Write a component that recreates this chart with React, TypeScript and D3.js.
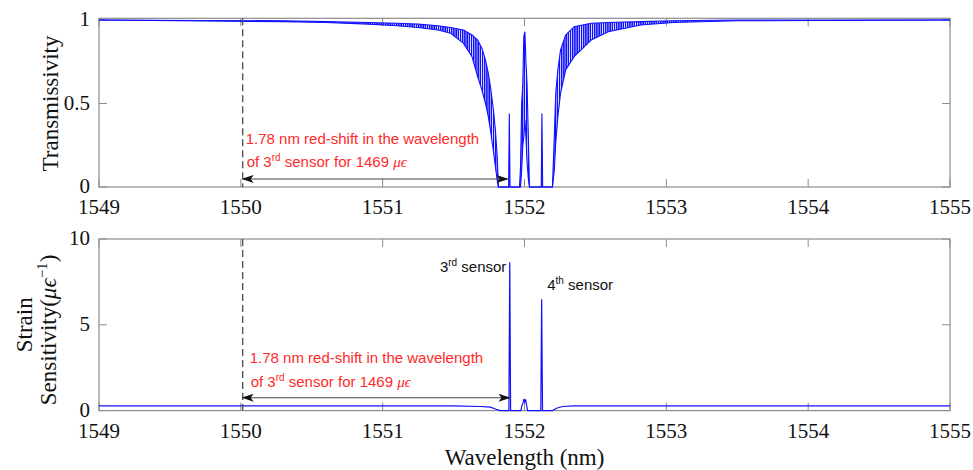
import * as d3 from "d3";

// wavelength axis (nm)
const xTicks = [1549, 1550, 1551, 1552, 1553, 1554, 1555];

// top panel: transmissivity, upper / lower envelope of the fringes
const tWave = [
  1549, 1550.3, 1550.6, 1550.9, 1551.1, 1551.25, 1551.39, 1551.48, 1551.57, 1551.63, 1551.67, 1551.7,
  1551.725, 1551.745, 1551.76, 1551.78, 1551.795, 1551.808, 1551.816, 1551.888, 1551.893, 1551.898,
  1551.965, 1551.972, 1551.98, 1551.988, 1551.995, 1552.003, 1552.01, 1552.018, 1552.027, 1552.035,
  1552.118, 1552.123, 1552.128, 1552.197, 1552.21, 1552.22, 1552.235, 1552.254, 1552.29, 1552.35,
  1552.47, 1552.59, 1552.82, 1553.05, 1553.5, 1555,
];
const tUpper = [
  1.0, 0.995, 0.99, 0.985, 0.98, 0.975, 0.965, 0.955, 0.94, 0.91, 0.88, 0.83,
  0.76, 0.68, 0.6, 0.47, 0.34, 0.18, 0.0, 0.0, 0.44, 0.0,
  0.0, 0.12, 0.5, 0.62, 0.9, 0.93, 0.75, 0.62, 0.3, 0.0,
  0.0, 0.44, 0.0, 0.0, 0.3, 0.56, 0.7, 0.82, 0.91, 0.96,
  0.98, 0.985, 0.99, 0.995, 1.0, 1.0,
];
const tLower = [
  1.0, 0.99, 0.985, 0.975, 0.965, 0.955, 0.94, 0.92, 0.86, 0.78, 0.66, 0.58,
  0.5, 0.42, 0.34, 0.22, 0.12, 0.04, 0.0, 0.0, 0.0, 0.0,
  0.0, 0.0, 0.1, 0.25, 0.3, 0.4, 0.3, 0.15, 0.05, 0.0,
  0.0, 0.0, 0.0, 0.0, 0.1, 0.26, 0.42, 0.56, 0.7, 0.78,
  0.88, 0.93, 0.97, 0.985, 0.995, 1.0,
];

// bottom panel: strain sensitivity (1/µε)
const sWave = [
  1549, 1551.0, 1551.5, 1551.69, 1551.76, 1551.8, 1551.83, 1551.89, 1551.896, 1551.902,
  1551.975, 1551.982, 1551.99, 1551.996, 1552.002, 1552.008, 1552.015, 1552.022,
  1552.115, 1552.121, 1552.127, 1552.197, 1552.23, 1552.27, 1552.35, 1553, 1555,
];
const sValue = [
  0.28, 0.28, 0.27, 0.24, 0.2, 0.08, 0.0, 0.0, 8.64, 0.0,
  0.0, 0.3, 0.45, 0.68, 0.5, 0.65, 0.3, 0.0,
  0.0, 6.49, 0.0, 0.0, 0.15, 0.24, 0.27, 0.28, 0.28,
];

const topTicks = [0, 0.5, 1];
const topTickLabels = ["0", "0.5", "1"];
const botTicks = [0, 5, 10];
const botTickLabels = ["0", "5", "10"];

const refWave = 1550.013;
const shiftEnd = 1551.88;

const W = 973;
const H = 470;
const left = 99;
const right = 950;
const BLUE = "#1010ff";
const FRAME = "#8c8c8c";
const RED = "#ff2a2a";
const SERIF = "'Liberation Serif', 'Times New Roman', serif";
const SANS = "'Liberation Sans', Arial, sans-serif";

const x = d3.scaleLinear().domain([1549, 1555]).range([left, right]);
const yTop = d3.scaleLinear().domain([0, 1.01]).range([187, 18.3]);
const yBot = d3.scaleLinear().domain([0, 10]).range([410.6, 239]);

const Frame = ({ y, ticks, labels }) => {
  const [y0, y1] = y.range();
  return (
    <g>
      <rect x={left} y={y1} width={right - left} height={y0 - y1} fill="none" stroke={FRAME} strokeWidth={1.2} />
      {xTicks.map((t) => (
        <g key={t}>
          <line x1={x(t)} x2={x(t)} y1={y0} y2={y0 - 8} stroke={FRAME} />
          <line x1={x(t)} x2={x(t)} y1={y1} y2={y1 + 8} stroke={FRAME} />
          <text x={x(t)} y={y0 + 27} textAnchor="middle" fontFamily={SERIF} fontSize={21} fill="#111">
            {t}
          </text>
        </g>
      ))}
      {ticks.map((t, i) => (
        <g key={t}>
          <line x1={left} x2={left + 8} y1={y(t)} y2={y(t)} stroke={FRAME} />
          <line x1={right} x2={right - 8} y1={y(t)} y2={y(t)} stroke={FRAME} />
          <text x={left - 9} y={y(t)} dy="0.3em" textAnchor="end" fontFamily={SERIF} fontSize={21} fill="#111">
            {labels[i]}
          </text>
        </g>
      ))}
    </g>
  );
};

const Note = ({ tx, ty1, ty2 }) => (
  <g fontFamily={SANS} fontSize={15} fill={RED}>
    <text x={tx} y={ty1}>1.78 nm red-shift in the wavelength</text>
    <text x={tx + 1} y={ty2}>
      of 3<tspan fontSize={10} dy={-6}>rd</tspan>
      <tspan dy={6}> sensor for 1469 </tspan>
      <tspan fontFamily={SERIF} fontStyle="italic">μϵ</tspan>
    </text>
  </g>
);

export default function App() {
  const idx = d3.range(tWave.length);
  const band = d3
    .area<number>()
    .x((i) => x(tWave[i]))
    .y0((i) => yTop(tLower[i]))
    .y1((i) => yTop(tUpper[i]));
  const upLine = d3.line<number>().x((i) => x(tWave[i])).y((i) => yTop(tUpper[i]));
  const loLine = d3.line<number>().x((i) => x(tWave[i])).y((i) => yTop(tLower[i]));
  const sLine = d3
    .line<number>()
    .x((i) => x(sWave[i]))
    .y((i) => yBot(sValue[i]));

  const topArrowY = yTop(0.048);
  const botArrowY = yBot(0.75);

  return (
    <svg width={W} height={H} style={{ position: "absolute", left: 0, top: 0, background: "#fff" }}>
      <defs>
        <pattern id="hatch" width={2.2} height={4} patternUnits="userSpaceOnUse">
          <rect width={1.5} height={4} fill={BLUE} />
        </pattern>
        <marker id="ahR" viewBox="0 0 12 8" refX={11} refY={4} markerWidth={12} markerHeight={8} markerUnits="userSpaceOnUse" orient="auto">
          <path d="M0,0 L12,4 L0,8 L3,4 Z" fill="#111" />
        </marker>
        <marker id="ahL" viewBox="0 0 12 8" refX={1} refY={4} markerWidth={12} markerHeight={8} markerUnits="userSpaceOnUse" orient="auto">
          <path d="M12,0 L0,4 L12,8 L9,4 Z" fill="#111" />
        </marker>
      </defs>

      {/* top panel */}
      <Frame y={yTop} ticks={topTicks} labels={topTickLabels} />
      <path d={band(idx)} fill="url(#hatch)" stroke="none" />
      <path d={upLine(idx)} fill="none" stroke={BLUE} strokeWidth={1.1} />
      <path d={loLine(idx)} fill="none" stroke={BLUE} strokeWidth={1.1} />
      <line x1={x(refWave)} x2={x(refWave)} y1={yTop(1.01)} y2={yTop(0)} stroke="#555" strokeDasharray="7,4" strokeWidth={1.4} />
      <line x1={x(refWave)} x2={x(shiftEnd)} y1={topArrowY} y2={topArrowY} stroke="#444" strokeWidth={1.2} markerStart="url(#ahL)" markerEnd="url(#ahR)" />
      <Note tx={x(refWave) + 3} ty1={yTop(0.257)} ty2={yTop(0.12)} />
      <text transform={`translate(58,${yTop(0.5)}) rotate(-90)`} textAnchor="middle" fontFamily={SERIF} fontSize={23} fill="#111">
        Transmissivity
      </text>

      {/* bottom panel */}
      <Frame y={yBot} ticks={botTicks} labels={botTickLabels} />
      <path d={sLine(d3.range(sWave.length))} fill="none" stroke={BLUE} strokeWidth={1.2} />
      <line x1={x(refWave)} x2={x(refWave)} y1={yBot(10)} y2={yBot(0)} stroke="#555" strokeDasharray="7,4" strokeWidth={1.4} />
      <line x1={x(refWave)} x2={x(1551.894)} y1={botArrowY} y2={botArrowY} stroke="#444" strokeWidth={1.2} markerStart="url(#ahL)" markerEnd="url(#ahR)" />
      <Note tx={x(refWave) + 7} ty1={yBot(2.76)} ty2={yBot(1.39)} />
      <text x={x(1551.872)} y={yBot(8.1)} textAnchor="end" fontFamily={SANS} fontSize={15} fill="#111">
        3<tspan fontSize={10} dy={-6}>rd</tspan>
        <tspan dy={6}> sensor</tspan>
      </text>
      <text x={x(1552.16)} y={yBot(7.03)} fontFamily={SANS} fontSize={15} fill="#111">
        4<tspan fontSize={10} dy={-6}>th</tspan>
        <tspan dy={6}> sensor</tspan>
      </text>
      <text transform={`translate(32,${yBot(5)}) rotate(-90)`} textAnchor="middle" fontFamily={SERIF} fontSize={23} fill="#111">
        Strain
      </text>
      <text transform={`translate(56,${yBot(4.7)}) rotate(-90)`} textAnchor="middle" fontFamily={SERIF} fontSize={23} fill="#111">
        Sensitivity(<tspan fontStyle="italic">μϵ</tspan>
        <tspan fontSize={15} dy={-9}>−1</tspan>
        <tspan dy={9}>)</tspan>
      </text>

      <text x={(left + right) / 2} y={465} textAnchor="middle" fontFamily={SERIF} fontSize={23} fill="#111">
        Wavelength (nm)
      </text>
    </svg>
  );
}
